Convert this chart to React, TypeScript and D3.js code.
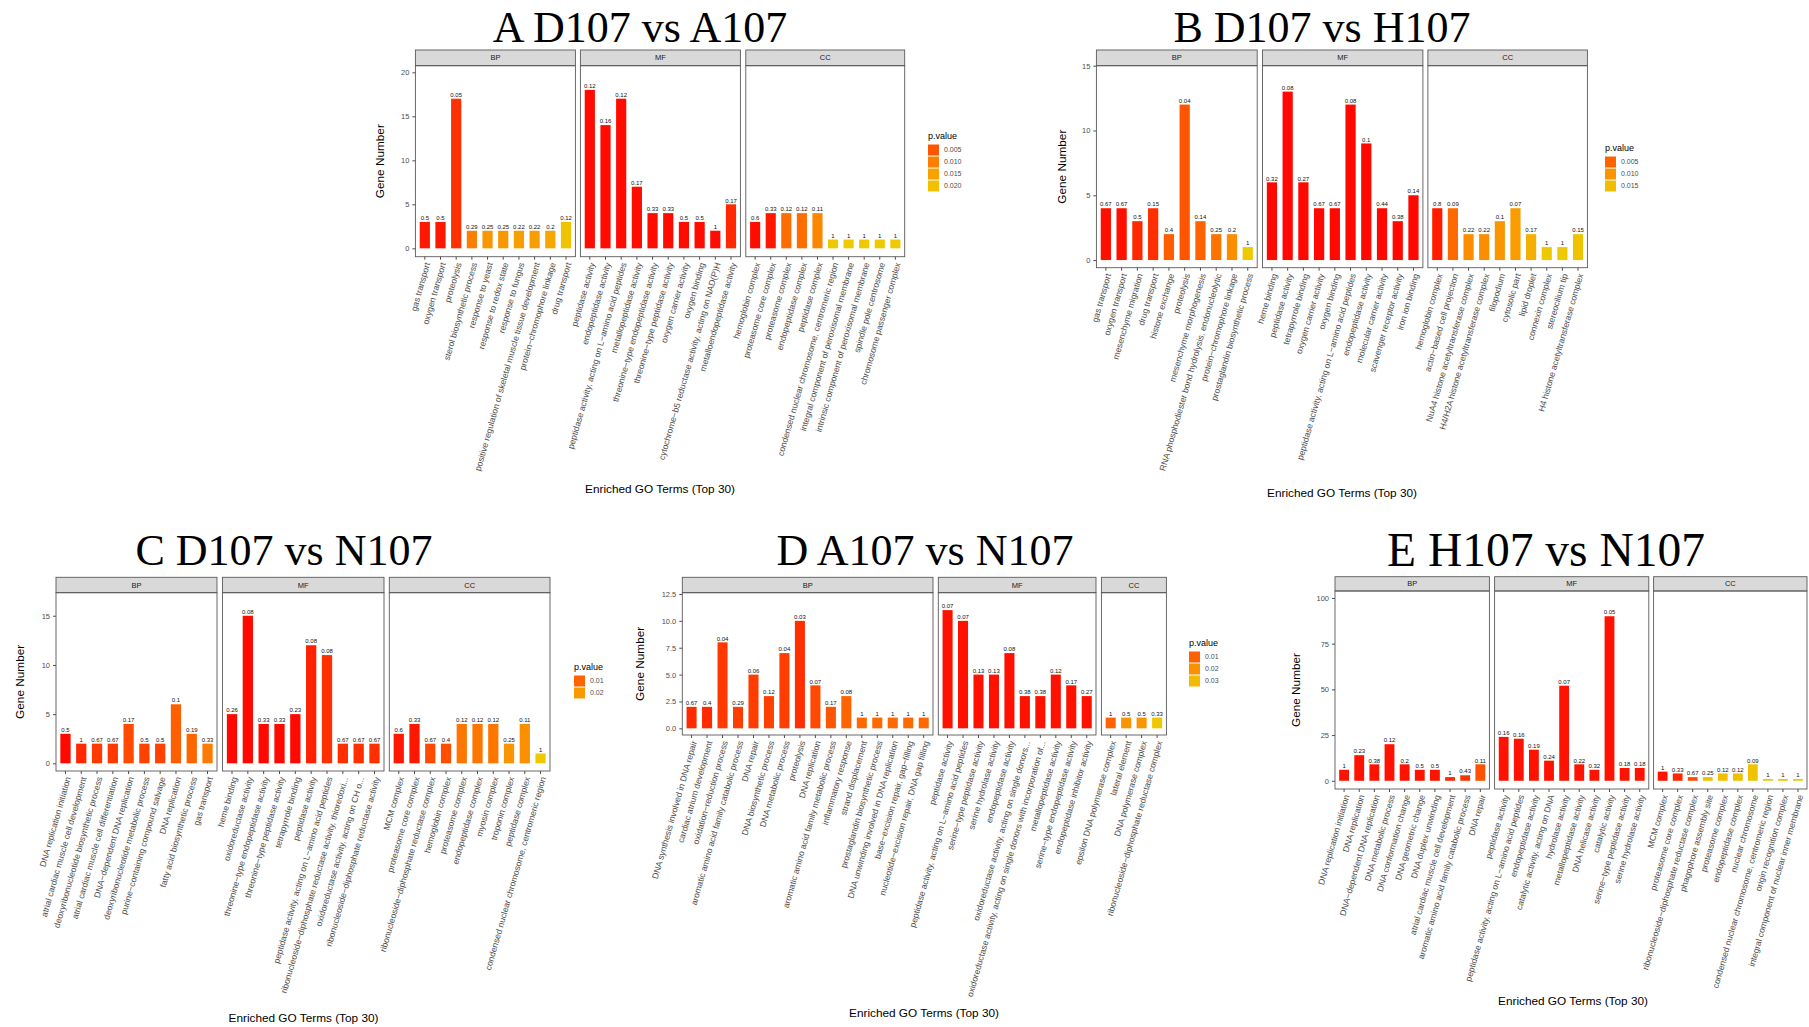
import React, { useEffect, useRef } from 'react'
import * as d3 from 'd3'

const ONTOLOGY = ['BP', 'MF', 'CC']

// A D107 vs A107
const aSizes = [10, 10, 10]
const aTerms = [
  'gas transport', 'oxygen transport', 'proteolysis', 'sterol biosynthetic process', 'response to yeast',
  'response to redox state', 'response to fungus', 'positive regulation of skeletal muscle tissue development',
  'protein−chromophore linkage', 'drug transport',
  'peptidase activity', 'endopeptidase activity', 'peptidase activity, acting on L−amino acid peptides',
  'metallopeptidase activity', 'threonine−type endopeptidase activity', 'threonine−type peptidase activity',
  'oxygen carrier activity', 'oxygen binding', 'cytochrome−b5 reductase activity, acting on NAD(P)H',
  'metalloendopeptidase activity',
  'hemoglobin complex', 'proteasome core complex', 'proteasome complex', 'endopeptidase complex', 'peptidase complex',
  'condensed nuclear chromosome, centromeric region', 'integral component of peroxisomal membrane',
  'intrinsic component of peroxisomal membrane', 'spindle pole centrosome', 'chromosome passenger complex',
]
const aGenes = [3, 3, 17, 2, 2, 2, 2, 2, 2, 3, 18, 14, 17, 7, 4, 4, 3, 3, 2, 5, 3, 4, 4, 4, 4, 1, 1, 1, 1, 1]
const aRatio = ['0.5', '0.5', '0.05', '0.29', '0.25', '0.25', '0.22', '0.22', '0.2', '0.12',
  '0.12', '0.16', '0.12', '0.17', '0.33', '0.33', '0.5', '0.5', '1', '0.17',
  '0.6', '0.33', '0.12', '0.12', '0.11', '1', '1', '1', '1', '1']
const aPval = [0.0008, 0.0008, 0.002, 0.01, 0.0135, 0.0135, 0.0145, 0.0145, 0.016, 0.0205,
  0.0005, 0.0005, 0.0005, 0.0005, 0.0005, 0.0005, 0.0005, 0.0005, 0.0005, 0.0015,
  0.0005, 0.0008, 0.0077, 0.0077, 0.011, 0.0215, 0.0215, 0.0215, 0.0215, 0.0215]
const aYTicks = ['0', '5', '10', '15', '20']
const aLegend = ['0.005', '0.010', '0.015', '0.020']

// B D107 vs H107
const bSizes = [10, 10, 10]
const bTerms = [
  'gas transport', 'oxygen transport', 'mesenchyme migration', 'drug transport', 'histone exchange', 'proteolysis',
  'mesenchyme morphogenesis', 'RNA phosphodiester bond hydrolysis, endonucleolytic', 'protein−chromophore linkage',
  'prostaglandin biosynthetic process',
  'heme binding', 'peptidase activity', 'tetrapyrrole binding', 'oxygen carrier activity', 'oxygen binding',
  'peptidase activity, acting on L−amino acid peptides', 'endopeptidase activity', 'molecular carrier activity',
  'scavenger receptor activity', 'iron ion binding',
  'hemoglobin complex', 'actin−based cell projection', 'NuA4 histone acetyltransferase complex',
  'H4/H2A histone acetyltransferase complex', 'filopodium', 'cytosolic part', 'lipid droplet', 'connexin complex',
  'stereocilium tip', 'H4 histone acetyltransferase complex',
]
const bGenes = [4, 4, 3, 4, 2, 12, 3, 2, 2, 1, 6, 13, 6, 4, 4, 12, 9, 4, 3, 5, 4, 4, 2, 2, 3, 4, 2, 1, 1, 2]
const bRatio = ['0.67', '0.67', '0.5', '0.15', '0.4', '0.04', '0.14', '0.25', '0.2', '1',
  '0.32', '0.08', '0.27', '0.67', '0.67', '0.08', '0.1', '0.44', '0.38', '0.14',
  '0.8', '0.09', '0.22', '0.22', '0.1', '0.07', '0.17', '1', '1', '0.15']
const bPval = [0.0005, 0.0005, 0.0012, 0.0015, 0.0045, 0.0039, 0.005, 0.0065, 0.0093, 0.0165,
  0.0004, 0.0004, 0.0004, 0.0004, 0.0004, 0.0004, 0.0004, 0.0004, 0.0004, 0.0004,
  0.0008, 0.0057, 0.0093, 0.0093, 0.0104, 0.011, 0.0133, 0.0165, 0.0165, 0.0157]
const bYTicks = ['0', '5', '10', '15']
const bLegend = ['0.005', '0.010', '0.015']

// C D107 vs N107
const cSizes = [10, 10, 10]
const cTerms = [
  'DNA replication initiation', 'atrial cardiac muscle cell development', 'deoxyribonucleotide biosynthetic process',
  'atrial cardiac muscle cell differentiation', 'DNA−dependent DNA replication', 'deoxyribonucleotide metabolic process',
  'purine−containing compound salvage', 'DNA replication', 'fatty acid biosynthetic process', 'gas transport',
  'heme binding', 'oxidoreductase activity', 'threonine−type endopeptidase activity', 'threonine−type peptidase activity',
  'tetrapyrrole binding', 'peptidase activity', 'peptidase activity, acting on L−amino acid peptides',
  'ribonucleoside−diphosphate reductase activity, thioredoxi...', 'oxidoreductase activity, acting on CH o...',
  'ribonucleoside−diphosphate reductase activity',
  'MCM complex', 'proteasome core complex', 'ribonucleoside−diphosphate reductase complex', 'hemoglobin complex',
  'proteasome complex', 'endopeptidase complex', 'myosin complex', 'troponin complex', 'peptidase complex',
  'condensed nuclear chromosome, centromeric region',
]
const cGenes = [3, 2, 2, 2, 4, 2, 2, 6, 3, 2, 5, 15, 4, 4, 5, 12, 11, 2, 2, 2, 3, 4, 2, 2, 4, 4, 4, 2, 4, 1]
const cRatio = ['0.5', '1', '0.67', '0.67', '0.17', '0.5', '0.5', '0.1', '0.19', '0.33',
  '0.26', '0.08', '0.33', '0.33', '0.23', '0.08', '0.08', '0.67', '0.67', '0.67',
  '0.6', '0.33', '0.67', '0.4', '0.12', '0.12', '0.12', '0.25', '0.11', '1']
const cPval = [0.001, 0.0025, 0.004, 0.004, 0.006, 0.005, 0.005, 0.009, 0.01, 0.014,
  0.001, 0.001, 0.001, 0.001, 0.001, 0.002, 0.003, 0.003, 0.003, 0.003,
  0.0015, 0.0015, 0.006, 0.0065, 0.013, 0.013, 0.013, 0.019, 0.018, 0.031]
const cYTicks = ['0', '5', '10', '15']
const cLegend = ['0.01', '0.02']

// D A107 vs N107
const dSizes = [16, 10, 4]
const dTerms = [
  'DNA synthesis involved in DNA repair', 'cardiac atrium development', 'oxidation−reduction process',
  'aromatic amino acid family catabolic process', 'DNA repair', 'DNA biosynthetic process', 'DNA metabolic process',
  'proteolysis', 'DNA replication', 'aromatic amino acid family metabolic process', 'inflammatory response',
  'strand displacement', 'prostaglandin biosynthetic process', 'DNA unwinding involved in DNA replication',
  'base−excision repair, gap−filling', 'nucleotide−excision repair, DNA gap filling',
  'peptidase activity', 'peptidase activity, acting on L−amino acid peptides', 'serine−type peptidase activity',
  'serine hydrolase activity', 'endopeptidase activity', 'oxidoreductase activity, acting on single donors...',
  'oxidoreductase activity, acting on single donors with incorporation of...', 'metallopeptidase activity',
  'serine−type endopeptidase activity', 'endopeptidase inhibitor activity',
  'epsilon DNA polymerase complex', 'lateral element', 'DNA polymerase complex',
  'ribonucleoside−diphosphate reductase complex',
]
const dGenes = [2, 2, 8, 2, 5, 3, 7, 10, 4, 2, 3, 1, 1, 1, 1, 1, 11, 10, 5, 5, 7, 3, 3, 5, 4, 3, 1, 1, 1, 1]
const dRatio = ['0.67', '0.4', '0.04', '0.29', '0.06', '0.12', '0.04', '0.03', '0.07', '0.17', '0.08', '1', '1', '1', '1', '1',
  '0.07', '0.07', '0.13', '0.13', '0.08', '0.38', '0.38', '0.12', '0.17', '0.27',
  '1', '0.5', '0.5', '0.33']
const dPval = [0.0025, 0.0025, 0.004, 0.0045, 0.0045, 0.005, 0.0045, 0.003, 0.006, 0.008, 0.0105,
  0.0115, 0.0115, 0.0115, 0.0115, 0.0115,
  0.001, 0.001, 0.001, 0.001, 0.001, 0.001, 0.001, 0.001, 0.001, 0.001,
  0.0105, 0.021, 0.021, 0.0335]
const dYTicks = ['0.0', '2.5', '5.0', '7.5', '10.0', '12.5']
const dLegend = ['0.01', '0.02', '0.03']

// E H107 vs N107
const eSizes = [10, 10, 10]
const eTerms = [
  'DNA replication initiation', 'DNA replication', 'DNA−dependent DNA replication', 'DNA metabolic process',
  'DNA conformation change', 'DNA geometric change', 'DNA duplex unwinding', 'atrial cardiac muscle cell development',
  'aromatic amino acid family catabolic process', 'DNA repair',
  'peptidase activity', 'peptidase activity, acting on L−amino acid peptides', 'endopeptidase activity',
  'catalytic activity, acting on DNA', 'hydrolase activity', 'metallopeptidase activity', 'DNA helicase activity',
  'catalytic activity', 'serine−type peptidase activity', 'serine hydrolase activity',
  'MCM complex', 'proteasome core complex', 'ribonucleoside−diphosphate reductase complex', 'phagophore assembly site',
  'proteasome complex', 'endopeptidase complex', 'nuclear chromosome', 'condensed nuclear chromosome, centromeric region',
  'origin recognition complex', 'integral component of nuclear inner membrane',
]
const eGenes = [6, 14, 9, 20, 9, 6, 6, 2, 3, 9, 24, 23, 17, 11, 52, 9, 6, 90, 7, 7, 5, 4, 2, 2, 4, 4, 9, 1, 1, 1]
const eRatio = ['1', '0.23', '0.38', '0.12', '0.2', '0.5', '0.5', '1', '0.43', '0.11',
  '0.16', '0.16', '0.19', '0.24', '0.07', '0.22', '0.32', '0.05', '0.18', '0.18',
  '1', '0.33', '0.67', '0.25', '0.12', '0.12', '0.09', '1', '1', '1']
const ePval = [0.001, 0.001, 0.001, 0.001, 0.001, 0.001, 0.001, 0.002, 0.003, 0.0065,
  0.001, 0.001, 0.001, 0.001, 0.001, 0.001, 0.001, 0.001, 0.001, 0.001,
  0.001, 0.002, 0.0058, 0.0276, 0.0276, 0.0276, 0.0285, 0.03, 0.03, 0.03]
const eYTicks = ['0', '25', '50', '75', '100']

const panels = [
  { title: 'A D107 vs A107', sizes: aSizes, terms: aTerms, genes: aGenes, ratio: aRatio, pval: aPval, yTicks: aYTicks, legend: aLegend,
    tx: 640, ty: 42, tsize: 44, facets: [[415.4, 575.4], [580.4, 740.4], [745.8, 904.7]], stripTop: 50, top: 65.7, bottom: 256.7,
    yDom: [-0.95, 20.75], yLabX: 380, xLab: [660, 489], leg: [928, 136], pDom: [0.0003, 0.0215] },
  { title: 'B D107 vs H107', sizes: bSizes, terms: bTerms, genes: bGenes, ratio: bRatio, pval: bPval, yTicks: bYTicks, legend: bLegend,
    tx: 1322, ty: 42, tsize: 44, facets: [[1096.4, 1257.2], [1262.5, 1422.9], [1427.9, 1587.4]], stripTop: 50, top: 65.7, bottom: 267.7,
    yDom: [-0.59, 15.0], yLabX: 1062, xLab: [1342, 493], leg: [1605, 148], pDom: [0.0003, 0.0165] },
  { title: 'C D107 vs N107', sizes: cSizes, terms: cTerms, genes: cGenes, ratio: cRatio, pval: cPval, yTicks: cYTicks, legend: cLegend,
    tx: 284, ty: 565, tsize: 44, facets: [[56, 217], [222.5, 384], [389.3, 550]], stripTop: 577.3, top: 592.7, bottom: 771,
    yDom: [-0.78, 17.34], yLabX: 20, xLab: [303.5, 1018], leg: [574, 667], pDom: [0.0008, 0.031] },
  { title: 'D A107 vs N107', sizes: dSizes, terms: dTerms, genes: dGenes, ratio: dRatio, pval: dPval, yTicks: dYTicks, legend: dLegend,
    tx: 925, ty: 565, tsize: 44, facets: [[682.3, 933], [938.3, 1096], [1101.4, 1166.4]], stripTop: 577.3, top: 592.7, bottom: 735,
    yDom: [-0.62, 12.62], yLabX: 640, xLab: [924, 1013], leg: [1189, 643], pDom: [0.0005, 0.034] },
  { title: 'E H107 vs N107', sizes: eSizes, terms: eTerms, genes: eGenes, ratio: eRatio, pval: ePval, yTicks: eYTicks, legend: null as string[] | null,
    tx: 1546, ty: 566, tsize: 47.5, facets: [[1335, 1489.4], [1494.6, 1648.8], [1653.6, 1807]], stripTop: 576.7, top: 591, bottom: 789,
    yDom: [-4.5, 103.8], yLabX: 1296, xLab: [1573, 1001], leg: null as number[] | null, pDom: [0.0005, 0.03] },
]

const SANS = '"Liberation Sans", Arial, sans-serif'

export default function App() {
  const ref = useRef<SVGSVGElement | null>(null)

  useEffect(() => {
    const svg = d3.select(ref.current!)
    svg.selectAll('*').remove()
    svg.append('rect').attr('width', 1809).attr('height', 1027).attr('fill', '#fff')

    panels.forEach(p => {
      const g = svg.append('g').attr('font-family', SANS)
      const color = d3.scaleLinear<string>().domain(p.pDom).range(['#FF0000', '#EEC900'])
        .interpolate(d3.interpolateLab).clamp(true)
      const y = d3.scaleLinear().domain(p.yDom).range([p.bottom, p.top])

      svg.append('text').attr('x', p.tx).attr('y', p.ty).attr('text-anchor', 'middle')
        .attr('font-family', '"Liberation Serif", "Times New Roman", serif').attr('font-size', p.tsize).text(p.title)

      let offset = 0
      p.facets.forEach(([x0, x1], fi) => {
        const idx = d3.range(offset, offset + p.sizes[fi])
        offset += p.sizes[fi]
        const x = d3.scaleBand<number>().domain(idx).range([x0, x1]).paddingInner(0.35).paddingOuter(0.275)

        g.append('rect').attr('x', x0).attr('y', p.stripTop).attr('width', x1 - x0).attr('height', p.top - p.stripTop)
          .attr('fill', '#D9D9D9').attr('stroke', '#5a5a5a').attr('stroke-width', 0.9)
        g.append('text').attr('x', (x0 + x1) / 2).attr('y', (p.stripTop + p.top) / 2).attr('dy', '0.35em')
          .attr('text-anchor', 'middle').attr('font-size', 7.5).attr('fill', '#1A1A1A').text(ONTOLOGY[fi])

        g.append('g').selectAll('rect').data(idx).enter().append('rect')
          .attr('x', i => x(i) ?? 0)
          .attr('y', i => y(p.genes[i]))
          .attr('width', x.bandwidth())
          .attr('height', i => y(0) - y(p.genes[i]))
          .attr('fill', i => color(p.pval[i]))

        g.append('g').selectAll('text').data(idx).enter().append('text')
          .attr('x', i => (x(i) ?? 0) + x.bandwidth() / 2)
          .attr('y', i => y(p.genes[i]) - 1.8)
          .attr('text-anchor', 'middle').attr('font-size', 6).attr('fill', '#111')
          .text(i => p.ratio[i])

        g.append('rect').attr('x', x0).attr('y', p.top).attr('width', x1 - x0).attr('height', p.bottom - p.top)
          .attr('fill', 'none').attr('stroke', '#5a5a5a').attr('stroke-width', 0.9)

        const ax = g.append('g').attr('transform', `translate(0,${p.bottom})`)
          .call(d3.axisBottom(x).tickSize(3).tickSizeOuter(0).tickFormat(i => p.terms[i]))
        ax.select('.domain').remove()
        ax.selectAll('line').attr('stroke', '#4D4D4D')
        ax.selectAll('text').attr('x', 0).attr('y', 0).attr('dy', '0.35em')
          .attr('transform', 'translate(2.5,6) rotate(-74)')
          .attr('text-anchor', 'end').attr('font-size', 8.6).attr('fill', '#4D4D4D')
          .attr('font-family', SANS)

        if (fi === 0) {
          const ay = g.append('g').attr('transform', `translate(${x0},0)`)
            .call(d3.axisLeft(y).tickValues(p.yTicks.map(Number)).tickSize(3).tickFormat((_, k) => p.yTicks[k]))
          ay.select('.domain').remove()
          ay.selectAll('line').attr('stroke', '#4D4D4D')
          ay.selectAll('text').attr('font-size', 7.5).attr('fill', '#4D4D4D').attr('font-family', SANS)
        }
      })

      g.append('text').attr('transform', `translate(${p.yLabX},${(p.top + p.bottom) / 2}) rotate(-90)`)
        .attr('dy', '0.35em').attr('text-anchor', 'middle').attr('font-size', 11.8).text('Gene Number')
      g.append('text').attr('x', p.xLab[0]).attr('y', p.xLab[1]).attr('dy', '0.35em')
        .attr('text-anchor', 'middle').attr('font-size', 11.8).text('Enriched GO Terms (Top 30)')

      if (p.legend && p.leg) {
        const [lx, ly] = p.leg
        g.append('text').attr('x', lx).attr('y', ly).attr('dy', '0.35em').attr('font-size', 9).text('p.value')
        p.legend.forEach((t, k) => {
          const cy = ly + 14 + k * 12
          g.append('rect').attr('x', lx).attr('y', cy - 5.5).attr('width', 11).attr('height', 11)
            .attr('fill', color(+t))
          g.append('text').attr('x', lx + 16).attr('y', cy).attr('dy', '0.35em')
            .attr('font-size', 7).attr('fill', '#4D4D4D').text(t)
        })
      }
    })
  }, [])

  return <svg ref={ref} width={1809} height={1027} style={{ position: 'absolute', left: 0, top: 0 }} />
}
